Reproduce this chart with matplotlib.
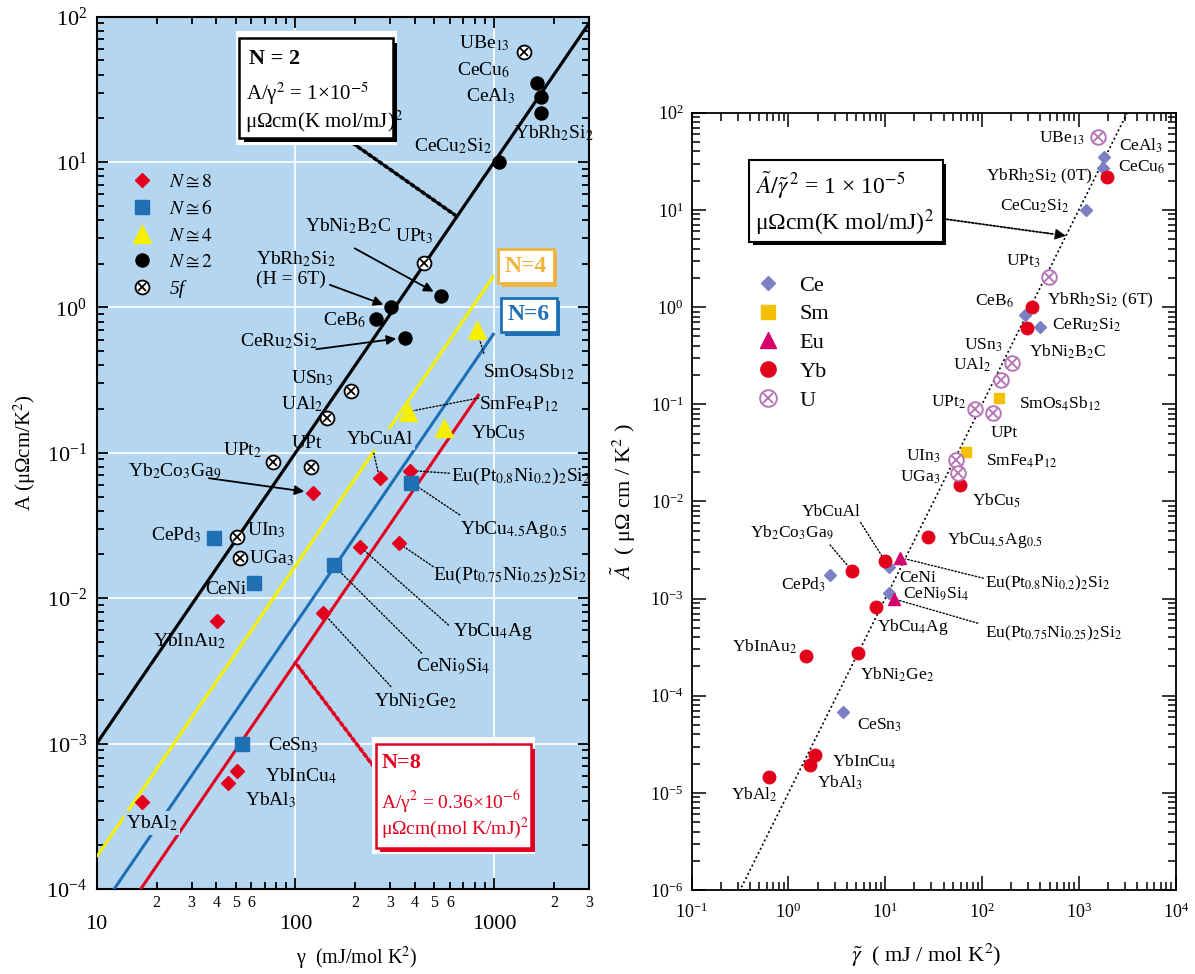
import numpy as np
import matplotlib
matplotlib.use("Agg")
import matplotlib.pyplot as plt
from matplotlib.lines import Line2D
from matplotlib.patches import Rectangle
from matplotlib import patheffects as pe
from matplotlib.ticker import (FixedLocator, FuncFormatter, NullFormatter,
                               LogFormatterMathtext)

plt.rcParams["font.family"] = ["Liberation Serif", "DejaVu Serif"]
plt.rcParams["mathtext.fontset"] = "stix"

# ---------------- left panel: A versus gamma, grouped by degeneracy ----------------
n8_names = ["YbAl2", "YbAl3", "YbInCu4", "YbInAu2", "YbNi2Ge2", "YbCu4Ag",
            "EuPt75", "Yb2Co3Ga9", "YbCuAl", "EuPt80"]
n8_gamma = [17.0, 45.9, 50.6, 40.5, 138, 212, 331, 122, 265, 378]
n8_A = [3.95e-4, 5.35e-4, 6.5e-4, 7.0e-3, 7.9e-3, 0.0225, 0.0239, 0.0532, 0.0669, 0.0755]

n6_names = ["CeSn3", "CeNi", "CePd3", "CeNi9Si4", "YbCu45Ag05"]
n6_gamma = [54.1, 61.8, 38.9, 155.6, 383]
n6_A = [1.0e-3, 0.0128, 0.0261, 0.0168, 0.0624]

n4_names = ["SmFe4P12", "YbCu5", "SmOs4Sb12"]
n4_gamma = [370, 558, 815]
n4_A = [0.192, 0.1475, 0.70]

n2_names = ["CeB6", "YbRh2Si2_6T", "CeRu2Si2", "YbNi2B2C", "CeCu2Si2",
            "CeCu6", "CeAl3", "YbRh2Si2"]
n2_gamma = [253, 303, 354, 539, 1059, 1650, 1727, 1727]
n2_A = [0.833, 1.0, 0.62, 1.205, 10.0, 34.8, 27.9, 21.9]

f5_names = ["UIn3", "UGa3", "UPt2", "UPt", "UAl2", "USn3", "UPt3", "UBe13"]
f5_gamma = [50.6, 52.8, 77, 120, 143.5, 190, 444, 1420]
f5_A = [0.0263, 0.0188, 0.086, 0.0796, 0.173, 0.267, 2.01, 57.5]

# A / gamma^2 = const lines for N = 2, 4, 6, 8 and the gamma where each one stops
kw_N = [2, 4, 6, 8]
kw_ratio = [1e-5, 1e-5 / 6, 1e-5 / 15, 0.36e-6]
kw_gamma_end = [3000, 1000, 1000, 840]

# ---------------- right panel: scaled A versus scaled gamma ----------------
ce_names = ["CeAl3", "CeCu6", "CeCu2Si2", "CeB6", "CeRu2Si2", "CeNi", "CePd3",
            "CeNi9Si4", "CeSn3"]
ce_g = [1824, 1775, 1189, 276, 398, 11.0, 2.69, 11.0, 3.70]
ce_A = [35.3, 26.8, 10.0, 0.83, 0.628, 0.00213, 0.00175, 0.00115, 6.78e-5]

sm_names = ["SmOs4Sb12", "SmFe4P12"]
sm_g = [149, 68.5]
sm_A = [0.115, 0.0325]

eu_names = ["EuPt80", "EuPt75"]
eu_g = [14.3, 12.4]
eu_A = [0.00264, 0.00099]

yb_names = ["YbRh2Si2_0T", "YbRh2Si2_6T", "YbNi2B2C", "YbCu5", "YbCu45Ag05",
            "YbCuAl", "Yb2Co3Ga9", "YbCu4Ag", "YbNi2Ge2", "YbInAu2", "YbInCu4",
            "YbAl3", "YbAl2"]
yb_g = [1945, 332, 294, 59.7, 27.5, 9.9, 4.52, 8.04, 5.19, 1.51, 1.90, 1.67, 0.624]
yb_A = [22.0, 1.01, 0.605, 0.0148, 0.00435, 0.00246, 0.00194, 8.15e-4, 2.78e-4,
        2.57e-4, 2.43e-5, 1.95e-5, 1.46e-5]

u_names = ["UBe13", "UPt3", "USn3", "UAl2", "UPt2", "UPt", "UIn3", "UGa3"]
u_g = [1593, 495, 205, 155.6, 83.8, 129.7, 53.5, 57.0]
u_A = [56.6, 2.06, 0.268, 0.178, 0.0887, 0.0807, 0.0267, 0.0195]

universal_ratio = 1e-5

# ---------------- compound names as drawn ----------------
TEX = {
    "YbAl2": "YbAl$_2$", "YbAl3": "YbAl$_3$", "YbInCu4": "YbInCu$_4$",
    "YbInAu2": "YbInAu$_2$", "YbNi2Ge2": "YbNi$_2$Ge$_2$", "YbCu4Ag": "YbCu$_4$Ag",
    "EuPt75": "Eu(Pt$_{0.75}$Ni$_{0.25}$)$_2$Si$_2$",
    "EuPt80": "Eu(Pt$_{0.8}$Ni$_{0.2}$)$_2$Si$_2$",
    "Yb2Co3Ga9": "Yb$_2$Co$_3$Ga$_9$", "YbCuAl": "YbCuAl",
    "CeSn3": "CeSn$_3$", "CeNi": "CeNi", "CePd3": "CePd$_3$",
    "CeNi9Si4": "CeNi$_9$Si$_4$", "YbCu45Ag05": "YbCu$_{4.5}$Ag$_{0.5}$",
    "SmFe4P12": "SmFe$_4$P$_{12}$", "YbCu5": "YbCu$_5$", "SmOs4Sb12": "SmOs$_4$Sb$_{12}$",
    "CeB6": "CeB$_6$", "YbRh2Si2_6T": "YbRh$_2$Si$_2$\n(H = 6T)",
    "CeRu2Si2": "CeRu$_2$Si$_2$", "YbNi2B2C": "YbNi$_2$B$_2$C",
    "CeCu2Si2": "CeCu$_2$Si$_2$", "CeCu6": "CeCu$_6$", "CeAl3": "CeAl$_3$",
    "YbRh2Si2": "YbRh$_2$Si$_2$", "UIn3": "UIn$_3$", "UGa3": "UGa$_3$",
    "UPt2": "UPt$_2$", "UPt": "UPt", "UAl2": "UAl$_2$", "USn3": "USn$_3$",
    "UPt3": "UPt$_3$", "UBe13": "UBe$_{13}$",
}
TEX_R = dict(TEX)
TEX_R["YbRh2Si2_6T"] = "YbRh$_2$Si$_2$ (6T)"
TEX_R["YbRh2Si2_0T"] = "YbRh$_2$Si$_2$ (0T)"

# label anchors (data coordinates) for the left panel: name, x, y, ha
left_labels = [
    ("UBe13", 1199, 66.2, "right"), ("CeCu6", 1199, 43.0, "right"),
    ("CeAl3", 1282, 28.2, "right"), ("YbRh2Si2", 1253, 15.8, "left"),
    ("CeCu2Si2", 394, 12.8, "left"), ("YbNi2B2C", 111.4, 3.6, "left"),
    ("UPt3", 316.6, 3.07, "left"), ("YbRh2Si2_6T", 63.3, 1.84, "left"),
    ("CeB6", 226.5, 0.82, "right"), ("CeRu2Si2", 52.4, 0.582, "left"),
    ("USn3", 95.3, 0.326, "left"), ("UAl2", 84.5, 0.217, "left"),
    ("UPt2", 43.2, 0.105, "left"), ("UPt", 96.2, 0.115, "left"),
    ("YbCuAl", 181.5, 0.123, "left"), ("Yb2Co3Ga9", 14.45, 0.0743, "left"),
    ("SmOs4Sb12", 877, 0.361, "left"), ("SmFe4P12", 841, 0.216, "left"),
    ("YbCu5", 763, 0.136, "left"), ("EuPt80", 603, 0.0686, "left"),
    ("YbCu45Ag05", 671, 0.0295, "left"), ("EuPt75", 492, 0.0144, "left"),
    ("CePd3", 33.6, 0.0272, "right"), ("UIn3", 57.3, 0.0295, "left"),
    ("UGa3", 58.5, 0.0188, "left"), ("CeNi", 35.1, 0.0114, "left"),
    ("YbCu4Ag", 617, 0.00589, "left"), ("CeNi9Si4", 403.6, 0.00339, "left"),
    ("YbNi2Ge2", 248.4, 0.00195, "left"), ("YbInAu2", 19.3, 0.00503, "left"),
    ("CeSn3", 72.4, 9.8e-4, "left"), ("YbInCu4", 70.0, 5.93e-4, "left"),
    ("YbAl3", 56.0, 4.1e-4, "left"), ("YbAl2", 14.1, 2.84e-4, "left"),
]
left_masked = {"YbCuAl", "YbAl2"}

# leader lines (left panel): compound, tail x, tail y, kind
left_leaders = [
    ("YbNi2B2C", 198.6, 2.55, "arrow"), ("YbRh2Si2_6T", 149, 1.43, "arrow"),
    ("CeRu2Si2", 127.4, 0.516, "arrow"), ("Yb2Co3Ga9", 36.7, 0.0669, "arrow"),
    ("YbCuAl", 247.7, 0.0993, "dot"), ("SmOs4Sb12", 887, 0.484, "dot"),
    ("SmFe4P12", 835, 0.238, "dot"), ("EuPt80", 594.6, 0.0724, "dot"),
    ("YbCu45Ag05", 671, 0.0374, "dot"), ("EuPt75", 493, 0.0165, "dot"),
    ("YbCu4Ag", 589, 0.00654, "dot"), ("CeNi9Si4", 431.5, 0.00419, "dot"),
    ("YbNi2Ge2", 302, 0.00247, "dot"),
]

right_labels = [
    ("UBe13", 1156, 55.0, "right"), ("CeAl3", 2630, 45.4, "left"),
    ("CeCu6", 2512, 27.8, "left"), ("YbRh2Si2_0T", 1400, 22.0, "right"),
    ("CeCu2Si2", 803, 10.8, "right"), ("UPt3", 406, 2.93, "right"),
    ("CeB6", 214, 1.14, "right"), ("YbRh2Si2_6T", 465, 1.18, "left"),
    ("CeRu2Si2", 523, 0.655, "left"), ("USn3", 163, 0.407, "right"),
    ("YbNi2B2C", 303, 0.347, "left"), ("UAl2", 123.6, 0.254, "right"),
    ("UPt2", 68.2, 0.106, "right"), ("SmOs4Sb12", 239, 0.102, "left"),
    ("UPt", 123.6, 0.0511, "left"), ("UIn3", 37.2, 0.0294, "right"),
    ("SmFe4P12", 111, 0.0257, "left"), ("UGa3", 37.2, 0.0179, "right"),
    ("YbCu5", 78.7, 0.0102, "left"), ("YbCuAl", 1.38, 0.00785, "left"),
    ("YbCu45Ag05", 43.4, 0.00402, "left"), ("Yb2Co3Ga9", 0.403, 0.00474, "left"),
    ("CePd3", 2.44, 0.00138, "right"), ("CeNi", 14.1, 0.00162, "left"),
    ("EuPt80", 108, 0.00144, "left"), ("CeNi9Si4", 15.2, 0.00109, "left"),
    ("EuPt75", 108, 4.4e-4, "left"), ("YbCu4Ag", 8.17, 5.15e-4, "left"),
    ("YbInAu2", 1.24, 3.2e-4, "right"), ("YbNi2Ge2", 5.48, 1.64e-4, "left"),
    ("CeSn3", 5.11, 5.02e-5, "left"), ("YbInCu4", 2.81, 2.1e-5, "left"),
    ("YbAl3", 1.95, 1.26e-5, "left"), ("YbAl2", 0.78, 9.55e-6, "right"),
]
right_leaders = [
    ("YbCuAl", 5.57, 0.00605), ("Yb2Co3Ga9", 2.69, 0.00356),
    ("EuPt80", 103, 0.00162), ("EuPt75", 90.2, 5.58e-4),
]

# ---------------- colours ----------------
BG = "#B5D6F0"
RED = "#E3001F"
BLUE = "#1F6FB5"
YELLOW = "#F4F000"
GOLD = "#F0B43C"
C_CE = "#7A80C2"
C_SM = "#F5C000"
C_EU = "#D6006D"
C_YB = "#E2001A"
C_U = "#B676B6"


def lookup(groups, name):
    for names, xs, ys in groups:
        if name in names:
            i = names.index(name)
            return xs[i], ys[i]
    raise KeyError(name)


def decades(lo, hi):
    return [10.0 ** k for k in range(lo, hi + 1)]


def minors(lo, hi):
    return [m * 10.0 ** k for k in range(lo, hi) for m in range(2, 10)]


fig = plt.figure(figsize=(11.95, 9.74), dpi=100)
axL = fig.add_axes([0.0809, 0.0873, 0.4120, 0.8956])
axR = fig.add_axes([0.5788, 0.0862, 0.4050, 0.7980])

# =========================== left panel ===========================
axL.set_facecolor(BG)
axL.set_xscale("log")
axL.set_yscale("log")
axL.set_xlim(10, 3000)
axL.set_ylim(1e-4, 1e2)
axL.set_axisbelow(True)
axL.grid(which="major", color="white", lw=1.2)

line_colors = {2: "black", 4: YELLOW, 6: BLUE, 8: RED}
for n, r, gend in zip(kw_N, kw_ratio, kw_gamma_end):
    g = np.logspace(1, np.log10(gend), 200)
    axL.plot(g, r * g ** 2, color=line_colors[n], lw=2.3 if n == 2 else 2.2,
             solid_capstyle="butt", zorder=3)

axL.plot(n8_gamma, n8_A, "D", ms=7.6, color=RED, ls="none", zorder=5)
axL.plot(n6_gamma, n6_A, "s", ms=10, color=BLUE, ls="none", zorder=5)
axL.plot(n4_gamma, n4_A, "^", ms=13, color=YELLOW, ls="none", zorder=5)
axL.plot(n2_gamma, n2_A, "o", ms=9.4, color="black", ls="none", zorder=5)
axL.plot(f5_gamma, f5_A, "o", ms=10, mfc="white", mec="black", mew=1.3,
         ls="none", zorder=5)
axL.plot(f5_gamma, f5_A, "x", ms=6, color="black", mew=1.3, ls="none", zorder=6)

groupsL = [(n8_names, n8_gamma, n8_A), (n6_names, n6_gamma, n6_A),
           (n4_names, n4_gamma, n4_A), (n2_names, n2_gamma, n2_A),
           (f5_names, f5_gamma, f5_A)]

for name, x, y, ha in left_labels:
    kw = {}
    if name in left_masked:
        kw["bbox"] = dict(boxstyle="square,pad=0.1", fc=BG, ec="none")
    axL.text(x, y, TEX[name], ha=ha, va="center", fontsize=14, zorder=4,
             linespacing=1.15, **kw)

for name, tx, ty, kind in left_leaders:
    px, py = lookup(groupsL, name)
    if kind == "arrow":
        props = dict(arrowstyle="-|>", color="black", lw=1.3, mutation_scale=14,
                     shrinkA=0, shrinkB=6)
    else:
        props = dict(arrowstyle="-", color="black", lw=1.0, ls=(0, (1, 1.5)),
                     shrinkA=0, shrinkB=4)
    axL.annotate("", xy=(px, py), xytext=(tx, ty), arrowprops=props, zorder=4)

# ticks
axL.xaxis.set_major_locator(FixedLocator([10, 100, 1000]))
axL.xaxis.set_major_formatter(FuncFormatter(lambda v, p: f"{v:.0f}"))
axL.xaxis.set_minor_locator(FixedLocator(minors(1, 3) + [2000, 3000]))


def minor_label(v, p):
    m = int(round(v / 10 ** np.floor(np.log10(v) + 1e-9)))
    return str(m) if 2 <= m <= 6 else ""


axL.xaxis.set_minor_formatter(FuncFormatter(minor_label))
axL.yaxis.set_major_locator(FixedLocator(decades(-4, 2)))
axL.yaxis.set_major_formatter(LogFormatterMathtext())
axL.yaxis.set_minor_locator(FixedLocator(minors(-4, 2)))
axL.yaxis.set_minor_formatter(NullFormatter())
axL.tick_params(which="both", direction="in", top=True, right=True, width=1.3)
axL.tick_params(which="major", length=8, labelsize=16)
axL.tick_params(which="minor", length=5)
axL.tick_params(axis="y", which="major", pad=7)
axL.tick_params(axis="x", which="major", pad=19)
axL.tick_params(axis="x", which="minor", pad=4, labelsize=11.5)
for s in axL.spines.values():
    s.set_linewidth(1.5)

axL.set_xlabel("γ  (mJ/mol K$^2$)", fontsize=14.5)
axL.xaxis.set_label_coords(0.529, -0.064)
axL.set_ylabel("A (μΩcm/K$^2$)", fontsize=15)
axL.yaxis.set_label_coords(-0.119, 0.5)

# legend (left)
hL = [Line2D([], [], marker="D", ms=7.6, color=RED, ls="none"),
      Line2D([], [], marker="s", ms=10, color=BLUE, ls="none"),
      Line2D([], [], marker="^", ms=13, color=YELLOW, ls="none"),
      Line2D([], [], marker="o", ms=9.4, color="black", ls="none"),
      (Line2D([], [], marker="o", ms=10, mfc="white", mec="black", mew=1.3, ls="none"),
       Line2D([], [], marker="x", ms=6, color="black", mew=1.3, ls="none"))]
labL = [r"$N \cong 8$", r"$N \cong 6$", r"$N \cong 4$", r"$N \cong 2$", "5f"]
legL = axL.legend(hL, labL, loc="upper left", bbox_to_anchor=(0.0565, 0.829),
                  frameon=False, fontsize=14, handlelength=1.0,
                  handletextpad=0.9, labelspacing=0.45, borderaxespad=0)
legL.get_texts()[-1].set_fontstyle("italic")

# N = 2 box
halo = Rectangle((0.283, 0.853), 0.326, 0.130, transform=axL.transAxes,
                 fc="white", ec="none", zorder=7)
axL.add_patch(halo)
box2 = Rectangle((0.290, 0.861), 0.312, 0.114, transform=axL.transAxes,
                 fc="white", ec="black", lw=1.8, zorder=7.5)
box2.set_path_effects([pe.SimplePatchShadow(offset=(3, -3), shadow_rgbFace="black",
                                            alpha=1.0), pe.Normal()])
axL.add_patch(box2)
axL.text(0.310, 0.952, "N = 2", transform=axL.transAxes, fontsize=16,
         fontweight="bold", va="center", ha="left", zorder=8)
axL.text(0.304, 0.912, "A/γ$^2$ = 1×10$^{-5}$", transform=axL.transAxes,
         fontsize=15, va="center", ha="left", zorder=8)
axL.text(0.302, 0.880, "μΩcm(K mol/mJ)$^2$", transform=axL.transAxes,
         fontsize=15, va="center", ha="left", zorder=8)
g2 = 650
axL.annotate("", xy=(g2, kw_ratio[0] * g2 ** 2), xytext=(0.520, 0.855),
             textcoords="axes fraction",
             arrowprops=dict(arrowstyle="-", lw=2.6, ls=(0, (0.9, 0.9)),
                             color="black", shrinkA=0, shrinkB=0), zorder=6)

# N = 8 box
halo8 = Rectangle((0.560, 0.040), 0.330, 0.134, transform=axL.transAxes,
                  fc="white", ec="none", zorder=7)
axL.add_patch(halo8)
box8 = Rectangle((0.567, 0.0467), 0.315, 0.119, transform=axL.transAxes,
                 fc="white", ec=RED, lw=1.8, zorder=7.5)
box8.set_path_effects([pe.SimplePatchShadow(offset=(3, -3), shadow_rgbFace=RED,
                                            alpha=1.0), pe.Normal()])
axL.add_patch(box8)
axL.text(0.578, 0.144, "N=8", transform=axL.transAxes, fontsize=16,
         fontweight="bold", color=RED, va="center", ha="left", zorder=8)
axL.text(0.578, 0.100, "A/γ$^2$ = 0.36×10$^{-6}$", transform=axL.transAxes,
         fontsize=14, color=RED, va="center", ha="left", zorder=8)
axL.text(0.578, 0.0696, "μΩcm(mol K/mJ)$^2$", transform=axL.transAxes,
         fontsize=14, color=RED, va="center", ha="left", zorder=8)
g8 = 100
axL.annotate("", xy=(g8, kw_ratio[3] * g8 ** 2), xytext=(0.563, 0.140),
             textcoords="axes fraction",
             arrowprops=dict(arrowstyle="-", lw=2.6, ls=(0, (0.9, 0.9)),
                             color=RED, shrinkA=0, shrinkB=0), zorder=6)

# N = 4 and N = 6 tags
for txt, col, xy in [("N=4", GOLD, (0.872, 0.714)), ("N=6", BLUE, (0.878, 0.658))]:
    t = axL.text(*xy, txt, transform=axL.transAxes, fontsize=17, fontweight="bold",
                 color=col, ha="center", va="center", zorder=8,
                 bbox=dict(boxstyle="square,pad=0.28", fc="white", ec=col, lw=2))
    t.get_bbox_patch().set_path_effects([
        pe.SimplePatchShadow(offset=(2.5, -2.5), shadow_rgbFace=col, alpha=1.0),
        pe.Normal()])

# =========================== right panel ===========================
axR.set_xscale("log")
axR.set_yscale("log")
axR.set_xlim(0.1, 1e4)
axR.set_ylim(1e-6, 1e2)

gu = np.logspace(-1, 4, 300)
axR.plot(gu, universal_ratio * gu ** 2, color="black", lw=1.2, ls=(0, (1.2, 1.6)),
         zorder=2)

axR.plot(ce_g, ce_A, "D", ms=6, color=C_CE, ls="none", zorder=4)
axR.plot(sm_g, sm_A, "s", ms=7, color=C_SM, ls="none", zorder=4)
axR.plot(eu_g, eu_A, "^", ms=8, color=C_EU, ls="none", zorder=4)
axR.plot(yb_g, yb_A, "o", ms=9, color=C_YB, ls="none", zorder=4)
axR.plot(u_g, u_A, "o", ms=10.5, mfc="white", mec=C_U, mew=1.4, ls="none", zorder=4)
axR.plot(u_g, u_A, "x", ms=6.5, color=C_U, mew=1.4, ls="none", zorder=5)

groupsR = [(ce_names, ce_g, ce_A), (sm_names, sm_g, sm_A), (eu_names, eu_g, eu_A),
           (yb_names, yb_g, yb_A), (u_names, u_g, u_A)]

for name, x, y, ha in right_labels:
    axR.text(x, y, TEX_R[name], ha=ha, va="center", fontsize=12.5, zorder=6)

for name, tx, ty in right_leaders:
    px, py = lookup(groupsR, name)
    axR.annotate("", xy=(px, py), xytext=(tx, ty),
                 arrowprops=dict(arrowstyle="-", color="black", lw=1.0,
                                 ls=(0, (1, 1.5)), shrinkA=0, shrinkB=4), zorder=3)

axR.xaxis.set_major_locator(FixedLocator(decades(-1, 4)))
axR.xaxis.set_major_formatter(LogFormatterMathtext())
axR.xaxis.set_minor_locator(FixedLocator(minors(-1, 4)))
axR.xaxis.set_minor_formatter(NullFormatter())
axR.yaxis.set_major_locator(FixedLocator(decades(-6, 2)))
axR.yaxis.set_major_formatter(LogFormatterMathtext())
axR.yaxis.set_minor_locator(FixedLocator(minors(-6, 2)))
axR.yaxis.set_minor_formatter(NullFormatter())
axR.tick_params(which="both", direction="in", top=True, right=True, width=1.1)
axR.tick_params(which="major", length=10, labelsize=13)
axR.tick_params(which="minor", length=6)
axR.tick_params(axis="x", which="major", pad=9)
axR.tick_params(axis="y", which="major", pad=6)
for s in axR.spines.values():
    s.set_linewidth(1.3)

axR.set_xlabel(r"$\tilde{\gamma}$  ( mJ / mol K$^2$)", fontsize=16)
axR.xaxis.set_label_coords(0.484, -0.066)
axR.set_ylabel(r"$\tilde{A}$  ( μΩ cm / K$^2$ )", fontsize=16)
axR.yaxis.set_label_coords(-0.111, 0.5)

# equation box with arrow onto the universal line
boxR = Rectangle((0.119, 0.834), 0.400, 0.105, transform=axR.transAxes,
                 fc="white", ec="black", lw=1.5, zorder=7)
boxR.set_path_effects([pe.SimplePatchShadow(offset=(2.5, -2.5), shadow_rgbFace="black",
                                            alpha=1.0), pe.Normal()])
axR.add_patch(boxR)
axR.text(0.131, 0.907, r"$\tilde{A}/\tilde{\gamma}^{\,2}$ = 1 × 10$^{-5}$",
         transform=axR.transAxes, fontsize=17, va="center", ha="left", zorder=8)
axR.text(0.131, 0.858, "μΩcm(K mol/mJ)$^2$", transform=axR.transAxes,
         fontsize=17, va="center", ha="left", zorder=8)
gA = 736
tip = (gA, universal_ratio * gA ** 2)
axR.annotate("", xy=tip, xytext=(0.527, 0.863), textcoords="axes fraction",
             arrowprops=dict(arrowstyle="-", lw=1.3, ls=(0, (1, 1)), color="black",
                             shrinkA=0, shrinkB=10), zorder=6)
axR.annotate("", xy=tip, xytext=(-15, 2.3), textcoords="offset points",
             arrowprops=dict(arrowstyle="-|>", lw=0.5, color="black", fc="black",
                             mutation_scale=18, shrinkA=0, shrinkB=0), zorder=6)

# legend (right)
hR = [Line2D([], [], marker="D", ms=7.5, color=C_CE, ls="none"),
      Line2D([], [], marker="s", ms=10, color=C_SM, ls="none"),
      Line2D([], [], marker="^", ms=11, color=C_EU, ls="none"),
      Line2D([], [], marker="o", ms=11, color=C_YB, ls="none"),
      (Line2D([], [], marker="o", ms=12, mfc="white", mec=C_U, mew=1.4, ls="none"),
       Line2D([], [], marker="x", ms=7.5, color=C_U, mew=1.4, ls="none"))]
labR = ["Ce", "Sm", "Eu", "Yb", "U"]
axR.legend(hR, labR, loc="upper left", bbox_to_anchor=(0.1155, 0.8026),
           frameon=False, fontsize=16, handlelength=1.0, handletextpad=0.93,
           labelspacing=0.37, borderaxespad=0)

fig.savefig("out.png", dpi=100)
